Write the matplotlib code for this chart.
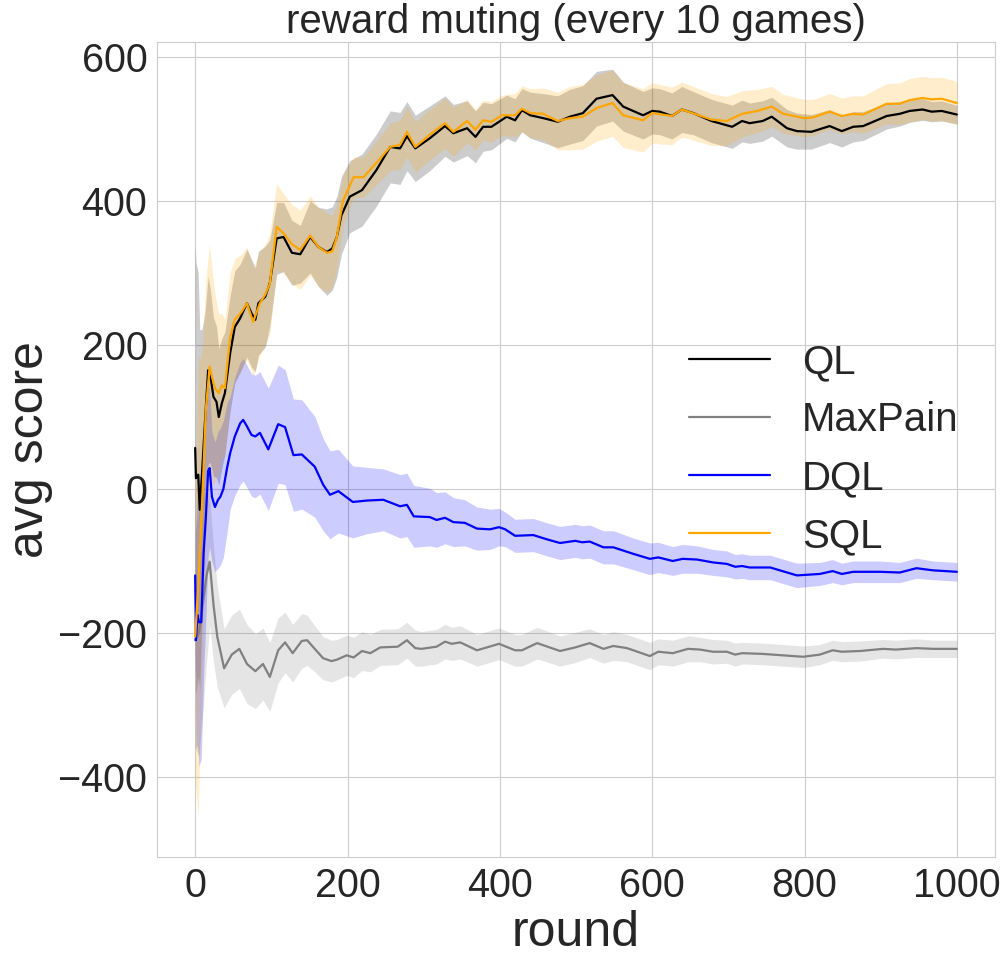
import numpy as np
import matplotlib
matplotlib.use('Agg')
import matplotlib.pyplot as plt
import seaborn as sns

# values (mean and half-width of band per series)
ql_x = [0, 1, 4, 6, 9, 13, 17, 20, 24, 28, 31, 35, 39, 46, 52, 59, 68, 74, 79, 83,
        92, 98, 107, 116, 127, 138, 151, 162, 173, 180, 186, 192, 203, 219, 238, 256, 269, 278, 289, 308,
        328, 339, 357, 368, 378, 389, 409, 420, 429, 440, 457, 476, 492, 509, 527, 548, 562, 588, 600, 610,
        626, 639, 654, 678, 705, 718, 728, 745, 757, 777, 790, 809, 833, 849, 864, 877, 908, 925, 938, 955,
        967, 980, 1000]
ql_y = [57, 15, 20, -29, 22, 96, 165, 157, 128, 121, 100, 119, 133, 189, 225, 237, 258, 244, 235, 258,
        267, 286, 348, 350, 328, 326, 350, 336, 329, 334, 350, 380, 406, 415, 443, 475, 473, 490, 473, 487,
        504, 494, 501, 489, 503, 503, 517, 512, 526, 519, 515, 510, 517, 522, 542, 547, 531, 519, 525, 524,
        518, 527, 522, 511, 503, 511, 508, 511, 517, 501, 497, 496, 504, 497, 503, 504, 518, 521, 525, 527,
        524, 525, 520]
ql_sd = [280, 300, 280, 250, 200, 150, 130, 120, 110, 105, 95, 90, 85, 80, 78, 75, 75, 75, 72, 72,
         70, 60, 50, 48, 45, 40, 50, 55, 60, 58, 56, 54, 50, 50, 50, 50, 50, 48, 46, 45,
         42, 40, 38, 36, 34, 32, 30, 30, 30, 32, 34, 36, 38, 38, 38, 36, 34, 33, 32, 32,
         32, 32, 30, 30, 30, 29, 28, 28, 27, 26, 25, 24, 23, 22, 21, 20, 18, 17, 16, 15,
         14, 14, 13]

mp_x = [0, 5, 10, 15, 19, 24, 29, 38, 48, 58, 68, 79, 89, 98, 109, 118, 128, 140, 147, 157,
        168, 179, 186, 199, 208, 219, 230, 243, 266, 278, 289, 297, 317, 328, 337, 348, 370, 399, 420, 429,
        449, 479, 499, 518, 536, 549, 567, 597, 608, 627, 647, 663, 680, 698, 709, 718, 745, 798, 820, 837,
        849, 873, 903, 920, 947, 969, 1000]
mp_y = [-210, -200, -160, -120, -101, -160, -205, -249, -230, -222, -243, -253, -243, -261, -224, -213, -228, -211, -210, -222,
        -235, -239, -237, -231, -234, -225, -228, -220, -219, -210, -221, -222, -219, -212, -215, -213, -224, -215, -224, -224,
        -214, -225, -220, -214, -222, -218, -221, -232, -226, -228, -222, -223, -226, -226, -230, -228, -229, -233, -230, -224,
        -226, -225, -222, -223, -221, -222, -222]
mp_sd = [150, 170, 150, 120, 90, 80, 70, 55, 55, 55, 55, 52, 50, 48, 45, 42, 40, 38, 35, 32,
         30, 29, 28, 28, 28, 27, 26, 25, 25, 25, 25, 24, 24, 24, 23, 23, 22, 22, 22, 22,
         22, 21, 21, 20, 20, 20, 19, 19, 18, 18, 18, 17, 17, 16, 16, 15, 15, 15, 14, 14,
         14, 14, 13, 13, 13, 12, 12]

dql_x = [0, 1, 3, 5, 8, 11, 14, 17, 19, 22, 26, 30, 33, 37, 42, 46, 52, 59, 63, 68,
         74, 79, 85, 96, 109, 118, 129, 140, 151, 157, 168, 177, 188, 207, 226, 247, 269, 278, 287, 308,
         317, 328, 339, 354, 370, 387, 399, 407, 420, 444, 462, 479, 499, 508, 518, 536, 549, 575, 597, 608,
         627, 640, 659, 680, 698, 709, 718, 728, 755, 790, 820, 837, 849, 864, 899, 925, 947, 969, 1000]
dql_y = [-120, -210, -175, -185, -185, -90, -40, 25, 29, -11, -25, -15, -11, 0, 30, 50, 73, 91, 96, 87,
         75, 73, 78, 55, 90, 86, 47, 48, 37, 31, 6, -8, -3, -18, -16, -15, -24, -22, -38, -39,
         -43, -40, -46, -47, -55, -56, -53, -56, -65, -64, -70, -75, -72, -74, -73, -81, -81, -90, -97, -95,
         -100, -97, -98, -102, -104, -108, -107, -109, -109, -120, -118, -114, -118, -115, -115, -116, -110, -113, -115]
dql_sd = [120, 150, 180, 200, 190, 170, 140, 120, 110, 90, 90, 95, 95, 95, 90, 78, 82, 85, 85, 85,
          85, 85, 85, 85, 82, 80, 78, 76, 72, 70, 64, 61, 58, 50, 46, 43, 44, 44, 43, 40,
          38, 36, 34, 32, 30, 28, 26, 24, 23, 23, 23, 23, 23, 23, 23, 23, 23, 22, 22, 21,
          20, 20, 19, 18, 18, 17, 17, 17, 17, 17, 16, 16, 15, 15, 15, 14, 14, 13, 13]

sql_x = [0, 2, 4, 7, 10, 14, 19, 22, 26, 31, 35, 39, 46, 52, 61, 68, 76, 85, 92, 98,
         107, 116, 127, 138, 151, 162, 173, 180, 186, 194, 208, 221, 238, 256, 269, 278, 289, 308, 328, 339,
         357, 368, 378, 389, 403, 420, 429, 440, 457, 476, 492, 509, 527, 548, 562, 588, 600, 626, 639, 678,
         698, 718, 738, 757, 772, 800, 811, 833, 849, 864, 877, 908, 925, 938, 955, 967, 980, 1000]
sql_y = [-205, -170, -136, -71, 3, 110, 170, 156, 140, 133, 144, 140, 211, 235, 246, 258, 232, 258, 270, 285,
         364, 355, 340, 332, 352, 336, 328, 330, 350, 400, 433, 433, 453, 475, 478, 496, 475, 492, 508, 496,
         511, 499, 512, 510, 519, 519, 528, 522, 521, 511, 515, 517, 529, 536, 519, 512, 522, 518, 527, 513,
         511, 521, 525, 531, 521, 515, 516, 524, 518, 521, 520, 535, 535, 540, 543, 541, 542, 536]
sql_sd = [200, 260, 320, 250, 200, 180, 170, 150, 130, 110, 100, 95, 90, 85, 80, 78, 75, 72, 70, 70,
          60, 55, 55, 55, 55, 55, 55, 50, 45, 35, 28, 28, 30, 33, 34, 35, 35, 35, 35, 34,
          30, 28, 28, 28, 28, 30, 32, 34, 36, 40, 44, 45, 46, 46, 45, 44, 42, 40, 38, 36,
          34, 32, 30, 28, 27, 26, 25, 25, 25, 25, 26, 28, 29, 30, 30, 30, 30, 30]

series = [
    ('QL', ql_x, ql_y, ql_sd, 'black'),
    ('MaxPain', mp_x, mp_y, mp_sd, 'gray'),
    ('DQL', dql_x, dql_y, dql_sd, 'blue'),
    ('SQL', sql_x, sql_y, sql_sd, 'orange'),
]

sns.set_style('whitegrid')
plt.rcParams['font.family'] = ['Liberation Sans', 'DejaVu Sans']

fig = plt.figure(figsize=(10.07, 9.59), dpi=100)
ax = fig.add_axes([0.156, 0.1064, 0.832, 0.85])

for name, x, y, sd, col in series:
    x = np.array(x)
    y = np.array(y, dtype=float)
    sd = np.array(sd, dtype=float)
    ax.plot(x, y, color=col, label=name, linewidth=1.6)
    ax.fill_between(x, y - sd, y + sd, color=col, alpha=0.2, linewidth=0)

ax.set_ylim(-511, 621)
ax.set_xlim(-50, 1050)
ax.set_xticks([0, 200, 400, 600, 800, 1000])
ax.set_yticks([-400, -200, 0, 200, 400, 600])
ax.tick_params(labelsize=28.5)
ax.set_xlabel('round', fontsize=36)
ax.set_ylabel('avg score', fontsize=36)
ax.set_title('reward muting (every 10 games)', fontsize=29)
ax.legend(loc='center right', fontsize=29, frameon=False, handlelength=2.0)

fig.savefig('out.png', dpi=100)
